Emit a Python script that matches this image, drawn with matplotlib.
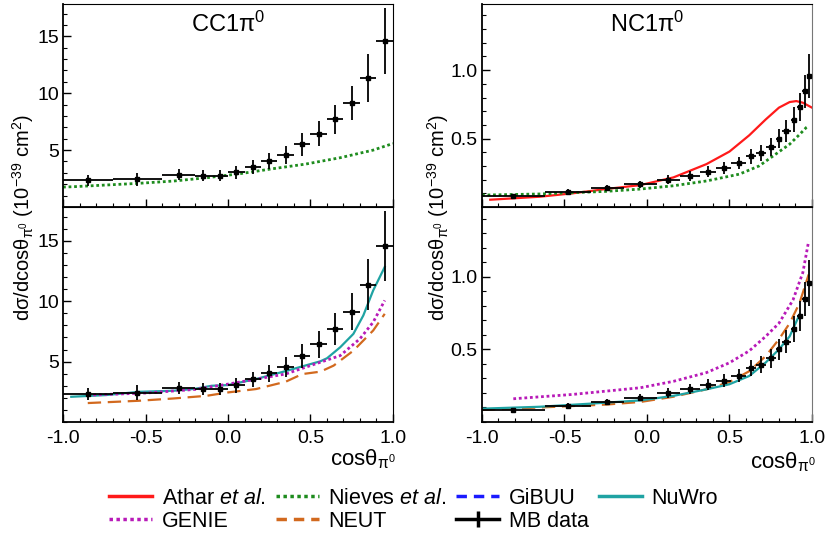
import numpy as np
import matplotlib.pyplot as plt
from matplotlib.lines import Line2D
from matplotlib.ticker import MultipleLocator

plt.rcParams['font.family'] = ['Liberation Sans', 'DejaVu Sans']
plt.rcParams['mathtext.fontset'] = 'custom'
plt.rcParams['mathtext.rm'] = 'Liberation Sans'
plt.rcParams['mathtext.it'] = 'Liberation Sans:italic'
plt.rcParams['mathtext.default'] = 'regular'

# MiniBooNE CC1pi0 data
cc_edges = [-1.0, -0.7, -0.4, -0.2, -0.1, 0.0, 0.1, 0.2, 0.3, 0.4, 0.5, 0.6, 0.7, 0.8, 0.9, 1.0]
cc_y = [2.34, 2.43, 2.84, 2.75, 2.75, 3.04, 3.54, 4.04, 4.56, 5.5, 6.43, 7.69, 9.15, 11.37, 14.6]
cc_err = [0.5, 0.6, 0.5, 0.5, 0.5, 0.6, 0.6, 0.7, 0.8, 1.0, 1.1, 1.3, 1.5, 2.1, 2.9]

# MiniBooNE NC1pi0 data
nc_edges = [-1.0, -0.62, -0.34, -0.14, 0.06, 0.2, 0.32, 0.42, 0.51, 0.6, 0.66, 0.72, 0.78,
            0.82, 0.87, 0.91, 0.94, 0.97, 1.0]
nc_y = [0.08, 0.109, 0.138, 0.167, 0.2, 0.228, 0.257, 0.284, 0.32, 0.369, 0.396, 0.44,
        0.5, 0.553, 0.638, 0.73, 0.847, 0.956]
nc_err = [0.015, 0.02, 0.02, 0.025, 0.035, 0.035, 0.04, 0.045, 0.045, 0.055, 0.06, 0.065,
          0.07, 0.08, 0.09, 0.1, 0.12, 0.16]

# model curves, CC
nieves_cc_x = [-1.0, -0.94, -0.74, -0.54, -0.33, -0.13, 0.07, 0.27, 0.47, 0.68, 0.88, 1.0]
nieves_cc_y = [1.75, 1.78, 1.93, 2.08, 2.28, 2.57, 2.92, 3.36, 3.77, 4.33, 5.0, 5.58]
nuwro_cc_x = [-0.95, -0.74, -0.54, -0.33, -0.2, -0.1, 0.0, 0.17, 0.35, 0.56, 0.6, 0.68, 0.76, 0.82, 0.88, 0.95]
nuwro_cc_y = [2.09, 2.23, 2.5, 2.59, 2.75, 3.0, 3.06, 3.56, 4.22, 5.03, 5.28, 6.19, 7.3, 8.82, 10.9, 12.84]
genie_cc_x = [-0.85, -0.5, -0.2, 0.0, 0.35, 0.56, 0.68, 0.8, 0.88, 0.95]
genie_cc_y = [2.23, 2.4, 2.7, 3.14, 3.98, 4.95, 5.5, 6.9, 8.27, 10.07]
neut_cc_x = [-0.85, -0.54, -0.33, -0.13, 0.0, 0.17, 0.35, 0.45, 0.56, 0.64, 0.76, 0.88, 0.95]
neut_cc_y = [1.57, 1.76, 1.95, 2.17, 2.45, 2.73, 3.34, 3.97, 4.17, 4.67, 5.91, 7.58, 8.96]

# model curves, NC
athar_nc_x = [-0.95, -0.65, -0.45, -0.25, -0.04, 0.16, 0.36, 0.5, 0.62, 0.72, 0.8, 0.865, 0.905, 0.945, 1.0]
athar_nc_y = [0.053, 0.075, 0.1, 0.131, 0.16, 0.216, 0.313, 0.405, 0.524, 0.64, 0.726, 0.767, 0.774, 0.762, 0.726]
nieves_nc_x = [-1.0, -0.65, -0.25, -0.04, 0.16, 0.36, 0.56, 0.68, 0.78, 0.865, 0.925, 0.965, 0.98]
nieves_nc_y = [0.087, 0.095, 0.114, 0.131, 0.155, 0.19, 0.24, 0.3, 0.386, 0.459, 0.53, 0.58, 0.592]
genie_nc_x = [-0.81, -0.45, -0.04, 0.16, 0.36, 0.5, 0.62, 0.72, 0.8, 0.885, 0.945, 0.98]
genie_nc_y = [0.16, 0.19, 0.236, 0.28, 0.34, 0.408, 0.49, 0.59, 0.68, 0.84, 1.03, 1.245]
neut_nc_x = [-1.0, -0.65, -0.25, -0.04, 0.16, 0.36, 0.5, 0.62, 0.72, 0.8, 0.865, 0.925, 0.98]
neut_nc_y = [0.083, 0.1, 0.12, 0.138, 0.174, 0.225, 0.275, 0.35, 0.454, 0.57, 0.68, 0.82, 1.016]
nuwro_nc_x = [-1.0, -0.65, -0.25, -0.04, 0.16, 0.36, 0.5, 0.62, 0.72, 0.8, 0.865, 0.925]
nuwro_nc_y = [0.092, 0.105, 0.133, 0.149, 0.18, 0.225, 0.26, 0.317, 0.41, 0.5, 0.59, 0.74]

c_red = '#ff1a1a'
c_green = '#1e8c1e'
c_blue = '#1a1aff'
c_teal = '#1fa3a3'
c_mag = '#b81ab8'
c_orange = '#d2691e'

fig = plt.figure(figsize=(8.27, 5.4), dpi=100)
axL1 = fig.add_axes([0.0762, 0.6167, 0.399, 0.375])
axL2 = fig.add_axes([0.0762, 0.2185, 0.399, 0.398])
axR1 = fig.add_axes([0.5828, 0.6167, 0.399, 0.375])
axR2 = fig.add_axes([0.5828, 0.2185, 0.399, 0.398])


def draw_data(ax, edges, y, err):
    edges = np.array(edges)
    xc = (edges[:-1] + edges[1:]) / 2
    xe = (edges[1:] - edges[:-1]) / 2
    ax.errorbar(xc, y, xerr=xe, yerr=err, fmt='s', color='black', ms=3,
                elinewidth=1.3, capsize=0, zorder=5)


draw_data(axL1, cc_edges, cc_y, cc_err)
axL1.plot(nieves_cc_x, nieves_cc_y, color=c_green, ls=(0, (1, 1)), lw=2)

draw_data(axL2, cc_edges, cc_y, cc_err)
axL2.plot(nuwro_cc_x, nuwro_cc_y, color=c_teal, lw=1.6)
axL2.plot(genie_cc_x, genie_cc_y, color=c_mag, ls=(0, (1, 1)), lw=2)
axL2.plot(neut_cc_x, neut_cc_y, color=c_orange, ls=(0, (6, 3)), lw=1.6)

draw_data(axR1, nc_edges, nc_y, nc_err)
axR1.plot(athar_nc_x, athar_nc_y, color=c_red, lw=1.6)
axR1.plot(nieves_nc_x, nieves_nc_y, color=c_green, ls=(0, (1, 1)), lw=2)

draw_data(axR2, nc_edges, nc_y, nc_err)
axR2.plot(genie_nc_x, genie_nc_y, color=c_mag, ls=(0, (1, 1)), lw=2)
axR2.plot(neut_nc_x, neut_nc_y, color=c_orange, ls=(0, (6, 3)), lw=1.6)
axR2.plot(nuwro_nc_x, nuwro_nc_y, color=c_teal, lw=1.6)

for ax in [axL1, axL2]:
    ax.set_ylim(0, 17.8)
    ax.yaxis.set_minor_locator(MultipleLocator(1))
    ax.set_yticks([5, 10, 15])
for ax in [axR1, axR2]:
    ax.set_ylim(0, 1.48)
    ax.set_yticks([0.5, 1.0])
    ax.set_yticklabels(['0.5', '1.0'])
    ax.yaxis.set_minor_locator(MultipleLocator(0.1))
    ax.spines['right'].set_color('#777777')

for ax in [axL1, axL2, axR1, axR2]:
    ax.set_xlim(-1, 1)
    ax.xaxis.set_major_locator(MultipleLocator(0.5))
    ax.xaxis.set_minor_locator(MultipleLocator(0.1))
    ax.tick_params(which='both', direction='in', top=False, right=False, labelsize=14)
    ax.tick_params(which='major', length=6, width=1)
    ax.tick_params(which='minor', length=3, width=0.8)
    ax.tick_params(axis='y', pad=3)
    for s in ['left', 'bottom']:
        ax.spines[s].set_linewidth(1.3)

for ax in [axL1, axR1]:
    ax.tick_params(labelbottom=False)
for ax in [axL2, axR2]:
    ax.set_xticks([-1.0, -0.5, 0.0, 0.5, 1.0])
    ax.set_xticklabels(['-1.0', '-0.5', '0.0', '0.5', '1.0'])
    ax.tick_params(axis='x', pad=6)

axL1.text(0.5, 0.9, r'CC1π$^{0}$', transform=axL1.transAxes, ha='center', va='center', fontsize=17)
axR1.text(0.5, 0.9, r'NC1π$^{0}$', transform=axR1.transAxes, ha='center', va='center', fontsize=17)

ylab = r'dσ/dcosθ$_{π^{0}}$ (10$^{-39}$ cm$^{2}$)'
fig.text(0.028, 0.598, ylab, rotation=90, ha='center', va='center', fontsize=14.5)
fig.text(0.530, 0.598, ylab, rotation=90, ha='center', va='center', fontsize=14.5)
fig.text(0.479, 0.15, r'cosθ$_{π^{0}}$', ha='right', va='center', fontsize=16)
fig.text(0.986, 0.145, r'cosθ$_{π^{0}}$', ha='right', va='center', fontsize=16)

handles = [
    Line2D([], [], color=c_red, lw=2.5),
    Line2D([], [], color=c_mag, lw=2.5, ls=(0, (1, 1))),
    Line2D([], [], color=c_green, lw=2.5, ls=(0, (1, 1))),
    Line2D([], [], color=c_orange, lw=2.5, ls=(0, (3, 2))),
    Line2D([], [], color=c_blue, lw=2.5, ls=(0, (3, 2))),
    Line2D([], [], color='black', lw=2.5, marker='|', ms=12, mew=2.5),
    Line2D([], [], color=c_teal, lw=2.5),
]
labels = [r'Athar $\it{et\ al.}$', 'GENIE', r'Nieves $\it{et\ al.}$', 'NEUT',
          'GiBUU', 'MB data', 'NuWro']
fig.legend(handles, labels, ncol=4, loc='center', bbox_to_anchor=(0.5, 0.056),
           frameon=False, fontsize=15.5, handlelength=2.0, columnspacing=0.45,
           handletextpad=0.45, labelspacing=0.1, borderpad=0.1)

plt.savefig('out.png', dpi=100)
